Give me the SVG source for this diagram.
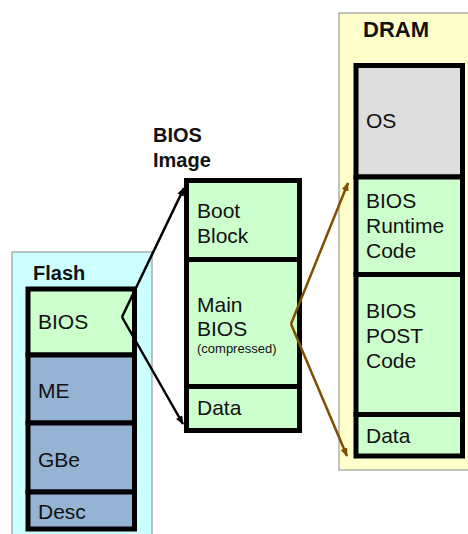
<svg xmlns="http://www.w3.org/2000/svg" width="468" height="534" viewBox="0 0 468 534">
  <style>
    text { font-family: "Liberation Sans", Arial, sans-serif; fill: #111; }
    .lbl { font-size: 21px; }
    .small { font-size: 13px; }
    .title { font-size: 20px; font-weight: bold; }
    .cell { stroke: #000; stroke-width: 5; }
    .green { fill: #CCFFCC; }
    .blue { fill: #95B3D3; }
    .gray { fill: #DDDDDD; }
    .panel { stroke: #888; stroke-width: 1; }
  </style>
  <defs>
    <marker id="ahBlack" viewBox="0 0 10 8" refX="9" refY="4" markerWidth="9" markerHeight="7" orient="auto" markerUnits="userSpaceOnUse">
      <path d="M0,0 L10,4 L0,8 z" fill="#000"/>
    </marker>
    <marker id="ahBrown" viewBox="0 0 10 8" refX="9" refY="4" markerWidth="9" markerHeight="7" orient="auto" markerUnits="userSpaceOnUse">
      <path d="M0,0 L10,4 L0,8 z" fill="#7F4F00"/>
    </marker>
  </defs>

  <rect width="468" height="534" fill="#fff"/>

  <!-- Flash device -->
  <g id="flash">
    <rect class="panel" x="12" y="252" width="140" height="290" fill="#CCFFFF"/>
    <text class="title" x="33" y="280">Flash</text>
    <g id="flash-bios">
      <rect class="cell green" x="28" y="289" width="106.5" height="66"/>
      <text class="lbl" x="38" y="329">BIOS</text>
    </g>
    <g id="flash-me">
      <rect class="cell blue" x="28" y="355" width="106.5" height="68"/>
      <text class="lbl" x="38" y="398">ME</text>
    </g>
    <g id="flash-gbe">
      <rect class="cell blue" x="28" y="423" width="106.5" height="69"/>
      <text class="lbl" x="38" y="467">GBe</text>
    </g>
    <g id="flash-desc">
      <rect class="cell blue" x="28" y="492" width="106.5" height="37"/>
      <text class="lbl" x="38" y="519">Desc</text>
    </g>
  </g>

  <!-- BIOS image layout -->
  <g id="bios-image">
    <text class="title" x="153" y="142">BIOS</text>
    <text class="title" x="153" y="167">Image</text>
    <g id="img-boot">
      <rect class="cell green" x="186.5" y="180.5" width="113" height="79"/>
      <text class="lbl" x="197" y="218">Boot</text>
      <text class="lbl" x="197" y="243">Block</text>
    </g>
    <g id="img-main">
      <rect class="cell green" x="186.5" y="259.5" width="113" height="127"/>
      <text class="lbl" x="197" y="312">Main</text>
      <text class="lbl" x="197" y="336">BIOS</text>
      <text class="small" x="197" y="353">(compressed)</text>
    </g>
    <g id="img-data">
      <rect class="cell green" x="186.5" y="386.5" width="113" height="44"/>
      <text class="lbl" x="197" y="415">Data</text>
    </g>
  </g>

  <!-- DRAM layout -->
  <g id="dram">
    <rect class="panel" x="339" y="13" width="140" height="457" fill="#FFFFCC"/>
    <text class="title" x="363" y="37" style="font-size:22px">DRAM</text>
    <g id="dram-os">
      <rect class="cell gray" x="356" y="65.5" width="106.5" height="111.5"/>
      <text class="lbl" x="366" y="128">OS</text>
    </g>
    <g id="dram-runtime">
      <rect class="cell green" x="356" y="177" width="106.5" height="97.5"/>
      <text class="lbl" x="366" y="208">BIOS</text>
      <text class="lbl" x="366" y="233">Runtime</text>
      <text class="lbl" x="366" y="258">Code</text>
    </g>
    <g id="dram-post">
      <rect class="cell green" x="356" y="274.5" width="106.5" height="140"/>
      <text class="lbl" x="366" y="318">BIOS</text>
      <text class="lbl" x="366" y="343">POST</text>
      <text class="lbl" x="366" y="368">Code</text>
    </g>
    <g id="dram-data">
      <rect class="cell green" x="356" y="414.5" width="106.5" height="41.5"/>
      <text class="lbl" x="366" y="443">Data</text>
    </g>
  </g>

  <!-- Connectors -->
  <g id="connectors" fill="none" stroke-width="2.5">
    <path d="M122,317 L184,188" stroke="#000" marker-end="url(#ahBlack)"/>
    <path d="M122,317 L183,424" stroke="#000" marker-end="url(#ahBlack)"/>
    <path d="M291,324 L348,183" stroke="#7F4F00" marker-end="url(#ahBrown)"/>
    <path d="M291,324 L347,456" stroke="#7F4F00" marker-end="url(#ahBrown)"/>
  </g>
</svg>
